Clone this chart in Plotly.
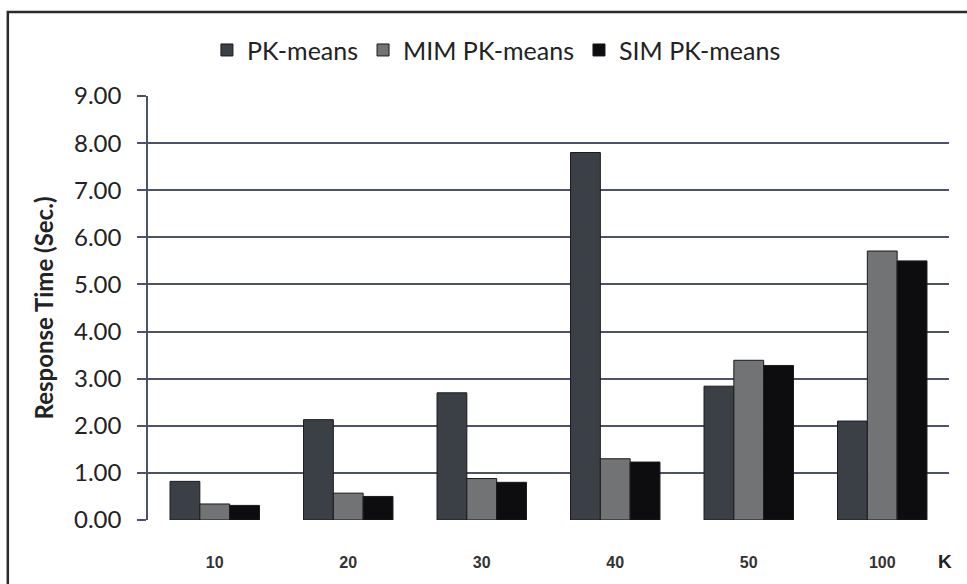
import plotly.graph_objects as go

# Response time per number of clusters K
k_labels = ["10", "20", "30", "40", "50", "100"]
pk_means = [0.82, 2.13, 2.70, 7.80, 2.84, 2.10]
mim_pk_means = [0.34, 0.57, 0.88, 1.30, 3.39, 5.71]
sim_pk_means = [0.31, 0.50, 0.80, 1.23, 3.28, 5.50]
y_ticks = [0, 1, 2, 3, 4, 5, 6, 7, 8, 9]

series = [
    ("PK-means", pk_means, "#3b4046"),
    ("MIM PK-means", mim_pk_means, "#727374"),
    ("SIM PK-means", sim_pk_means, "#0d0d0f"),
]

fig = go.Figure()
for name, vals, color in series:
    fig.add_trace(go.Bar(
        name=name, x=k_labels, y=vals,
        marker=dict(color=color, line=dict(color="#1a1a1e", width=1)),
    ))

fig.update_layout(
    width=967, height=584,
    margin=dict(l=148, r=18, t=96, b=64),
    paper_bgcolor="white", plot_bgcolor="white",
    barmode="group", bargap=0.33, bargroupgap=0,
    font=dict(family="Lato, Open Sans, sans-serif", color="#222"),
    showlegend=True,
    legend=dict(
        orientation="h", x=0.435, xanchor="center", y=1.108, yanchor="middle",
        font=dict(size=25, family="Lato, Open Sans, sans-serif", color="#222"),
        itemwidth=30, traceorder="normal",
    ),
    xaxis=dict(
        type="category", showgrid=False, showline=False, ticks="",
        ticklabelstandoff=31,
        tickfont=dict(size=16, family="Liberation Sans, Arial", color="#333", weight="bold"),
    ),
    yaxis=dict(
        range=[0, 9], tickvals=y_ticks, tickformat=".2f",
        showgrid=True, gridcolor="#4e5268", gridwidth=1.5,
        showline=True, linecolor="#4e5268", linewidth=1.5,
        ticks="outside", ticklen=9, tickcolor="#4e5268", tickwidth=1.5,
        tickfont=dict(size=24, color="#222"),
        ticklabelstandoff=11,
        zeroline=False,
        title=dict(text="<b>Response Time (Sec.)</b>", font=dict(size=24, color="#222"), standoff=14),
    ),
)

# Axis label for K at the right end of the category labels
fig.add_annotation(
    text="<b>K</b>", xref="paper", yref="paper", x=0.995, y=-0.097,
    xanchor="center", yanchor="middle", showarrow=False,
    font=dict(size=19, family="Liberation Sans, Arial", color="#222"),
)

# Frame around the chart
fig.add_shape(
    type="rect", xref="paper", yref="paper",
    x0=-0.175, x1=1.05, y0=-0.3, y1=1.198,
    line=dict(color="#2a2a30", width=2.5), fillcolor="rgba(0,0,0,0)", layer="below",
)

fig.write_html("out.html")
